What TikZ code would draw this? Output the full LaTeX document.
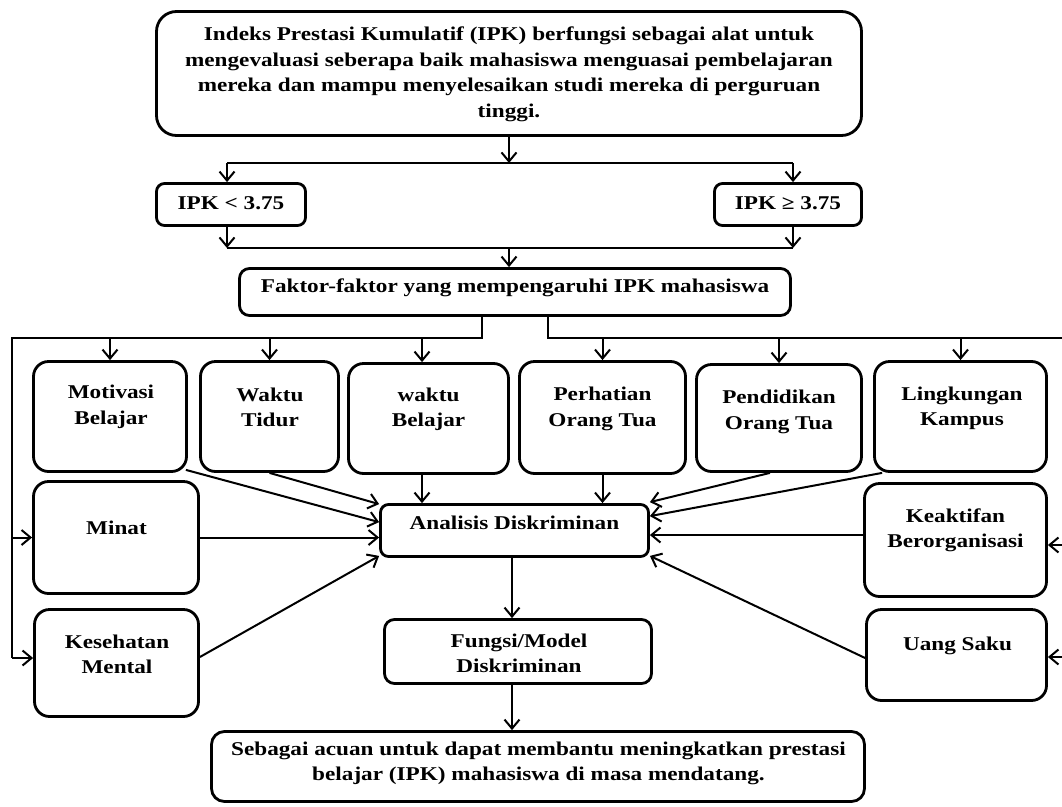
\documentclass[tikz,border=0pt]{standalone}
\usepackage{fontspec}
\setmainfont{Liberation Serif}[FakeStretch=1.19]
\usetikzlibrary{arrows.meta}
\begin{document}
\begin{tikzpicture}[x=1pt,y=-1pt,
  box/.style={draw, line width=2.8pt, rounded corners=#1, inner sep=0pt},
  box/.default=15pt,
  lbl/.style={align=center, inner sep=0pt, font=\fontsize{19.5}{25.5}\selectfont\bfseries},
  conn/.style={line width=2pt},
  arr/.style={conn, -{Straight Barb[length=9pt,width=15pt]}}]
\useasboundingbox (0,0) rectangle (1062,806);

% boxes
\node[box=20pt, minimum width=705, minimum height=124] (top) at (509,73.5) {};
\node[box=8pt, minimum width=149, minimum height=42] (ipkL) at (231,204.5) {};
\node[box=8pt, minimum width=147, minimum height=42] (ipkR) at (788,204.5) {};
\node[box=10pt, minimum width=551, minimum height=47] (fak) at (515,292) {};
\node[box, minimum width=153, minimum height=110] (mot) at (110,416.5) {};
\node[box, minimum width=138, minimum height=110] (tid) at (269.5,416.5) {};
\node[box, minimum width=160, minimum height=110] (bel) at (428.5,418.5) {};
\node[box, minimum width=166, minimum height=112] (per) at (602.5,417.5) {};
\node[box, minimum width=165, minimum height=107] (pen) at (779,418) {};
\node[box, minimum width=172, minimum height=110] (lin) at (960.5,416.5) {};
\node[box, minimum width=165, minimum height=112] (min) at (116,537.5) {};
\node[box, minimum width=164, minimum height=107] (kes) at (116.5,663) {};
\node[box, minimum width=182, minimum height=113] (keak) at (955.5,540) {};
\node[box, minimum width=180, minimum height=91] (uang) at (956.5,655) {};
\node[box=8pt, minimum width=268, minimum height=52] (ana) at (514.5,530.5) {};
\node[box=10pt, minimum width=267, minimum height=64] (fun) at (518,651.5) {};
\node[box=13pt, minimum width=653, minimum height=70] (bot) at (538,766.5) {};

% texts
\node[lbl] (topT) at (509,74.5) {Indeks Prestasi Kumulatif (IPK) berfungsi sebagai alat untuk\\mengevaluasi seberapa baik mahasiswa menguasai pembelajaran\\mereka dan mampu menyelesaikan studi mereka di perguruan\\tinggi.};
\node[lbl] (ipkLT) at (231,203) {IPK < 3.75};
\node[lbl] (ipkRT) at (788,203) {IPK ≥ 3.75};
\node[lbl] (fakT) at (515,288) {Faktor-faktor yang mempengaruhi IPK mahasiswa};
\node[lbl] (motT) at (111,407) {Motivasi\\Belajar};
\node[lbl] (tidT) at (270,407.5) {Waktu\\Tidur};
\node[lbl] (belT) at (428.5,409.5) {waktu\\Belajar};
\node[lbl] (perT) at (602.5,409) {Perhatian\\Orang Tua};
\node[lbl] (penT) at (779,412) {Pendidikan\\Orang Tua};
\node[lbl] (linT) at (962,408.5) {Lingkungan\\Kampus};
\node[lbl] (minT) at (116.5,528) {Minat};
\node[lbl] (kesT) at (117,654.5) {Kesehatan\\Mental};
\node[lbl] (keakT) at (955.5,530.5) {Keaktifan\\Berorganisasi};
\node[lbl] (uangT) at (957.5,646) {Uang Saku};
\node[lbl] (anaT) at (514.5,523) {Analisis Diskriminan};
\node[lbl] (funT) at (519,653.5) {Fungsi/Model\\Diskriminan};
\node[lbl] (botT) at (538.5,763.5) {Sebagai acuan untuk dapat membantu meningkatkan prestasi\\belajar (IPK) mahasiswa di masa mendatang.};

% junction coordinates
\coordinate (j0) at (509,163);
\coordinate (jL) at (227,163);
\coordinate (jR) at (793,163);
\coordinate (kL) at (227,248);
\coordinate (kR) at (793,248);
\coordinate (k0) at (509,248);
\coordinate (fa) at (482,338);
\coordinate (fb) at (548,338);
\coordinate (lTop) at (12,338);
\coordinate (lBot) at (12,658);
\coordinate (rTop) at (1063,338);
\coordinate (rK) at (1063,545);
\coordinate (rBot) at (1063,657);
\coordinate (belx) at (422,338);
\coordinate (cx) at (512,0);

% top part
\draw[arr] (top.south -| j0) -- (j0);
\draw[conn] (jL) -- (jR);
\draw[arr] (jL) -- (jL |- ipkL.north);
\draw[arr] (jR) -- (jR |- ipkR.north);
\draw[arr] (kL |- ipkL.south) -- (kL);
\draw[arr] (kR |- ipkR.south) -- (kR);
\draw[conn] (kL) -- (kR);
\draw[arr] (k0) -- (k0 |- fak.north);

% distribution lines
\draw[conn] (fak.south -| fa) -- (fa) -- (lTop) -- (lBot);
\draw[conn] (fak.south -| fb) -- (fb) -- (rTop) -- (rBot);
\draw[arr] (mot.north |- lTop) -- (mot.north);
\draw[arr] (tid.north |- lTop) -- (tid.north);
\draw[arr] (belx) -- (belx |- bel.north);
\draw[arr] (per.north |- lTop) -- (per.north);
\draw[arr] (pen.north |- lTop) -- (pen.north);
\draw[arr] (lin.north |- lTop) -- (lin.north);
\draw[arr] (lTop |- min.west) -- (min.west);
\draw[arr] (lBot) -- (lBot -| kes.west);
\draw[arr] (rK) -- (rK -| keak.east);
\draw[arr] (rBot) -- (rBot -| uang.east);

% into analysis
\draw[arr] ([xshift=-2pt,yshift=3pt]mot.south east) -- ([yshift=-19pt]ana.north west);
\draw[arr] (tid.south) -- ([yshift=-1pt]ana.north west);
\draw[arr] (min.east) -- (min.east -| ana.west);
\draw[arr] ([yshift=6pt]kes.east) -- ([yshift=2pt]ana.south west);
\draw[arr] (bel.south -| belx) -- (ana.north -| belx);
\draw[arr] (per.south) -- (per.south |- ana.north);
\draw[arr] ([xshift=-9pt]pen.south) -- ([yshift=1pt]ana.north east);
\draw[arr] ([xshift=9pt]lin.south west) -- ([yshift=-13pt]ana.north east);
\draw[arr] ([yshift=5pt]keak.west) -- ([yshift=5pt]keak.west -| ana.east);
\draw[arr] ([yshift=-3pt]uang.west) -- ([yshift=2pt]ana.south east);

% down
\draw[arr] (ana.south -| cx) -- (fun.north -| cx);
\draw[arr] (fun.south -| cx) -- (bot.north -| cx);
\end{tikzpicture}
\end{document}
